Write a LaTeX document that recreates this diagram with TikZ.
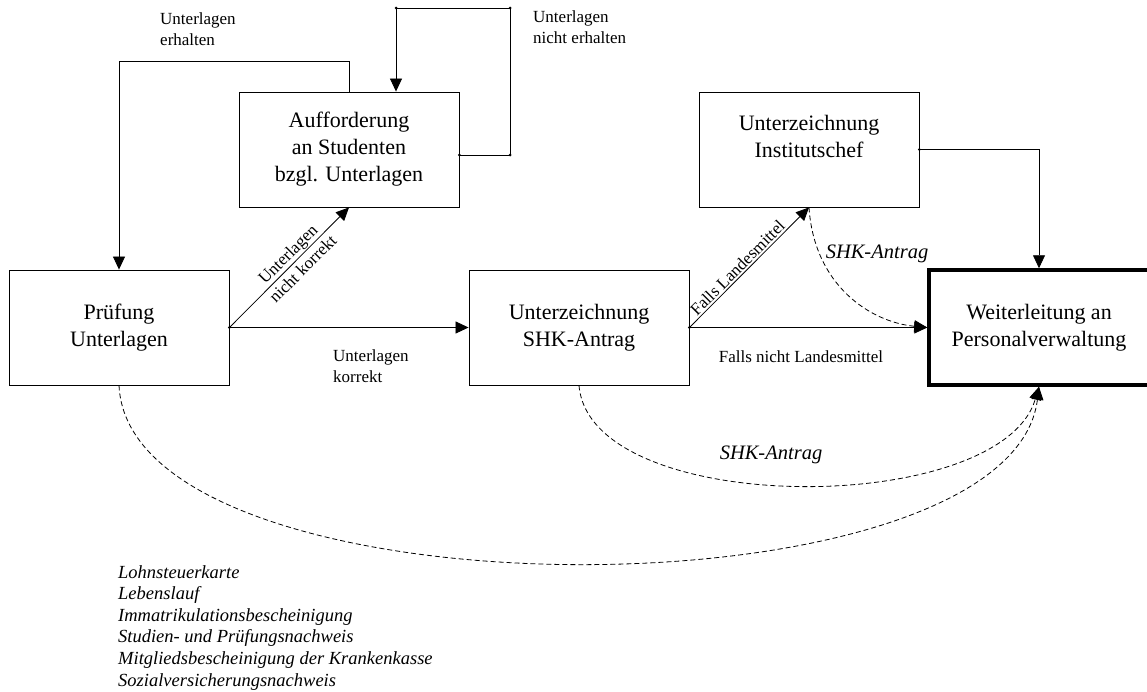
\documentclass[tikz,border=0pt]{standalone}
\usepackage{fontspec}
\setmainfont{Liberation Serif}
\usetikzlibrary{arrows.meta}
\tikzset{
  box/.style={draw, line width=0.9pt, minimum width=220pt, minimum height=115pt, align=center, inner sep=0pt, font=\fontsize{22}{27}\selectfont},
  thickbox/.style={box, line width=3.5pt},
  arr/.style={line width=0.8pt, -{Triangle[length=13pt,width=12pt]}},
  darr/.style={line width=0.8pt, dashed, dash pattern=on 5pt off 3pt, -{Triangle[length=13pt,width=12pt]}},
  lbl/.style={font=\fontsize{17}{21}\selectfont, align=left, inner sep=0pt},
  ilbl/.style={font=\fontsize{20.5}{24}\selectfont\itshape, inner sep=0pt},
  dot/.style={circle, fill, inner sep=0pt, minimum size=3pt}
}
\begin{document}
\begin{tikzpicture}[x=1pt,y=-1pt]
\useasboundingbox (0,0) rectangle (1147,691);
% boxes
\node[box] (pr) at (119,327.5) {Prüfung\\Unterlagen};
\node[box] (au) at (349,149.5) {Aufforderung\\an Studenten\\bzgl. Unterlagen};
\node[box] (shk) at (579,327.5) {Unterzeichnung\\SHK-Antrag};
\node[box] (inst) at (809,149.5) {Unterzeichnung\\Institutschef\\\mbox{}};
\node[thickbox] (wl) at (1039,327.5) {Weiterleitung an\\Personalverwaltung};
% helper coordinates
\coordinate (c1) at (510,8);
\coordinate (c2) at (119,61);
% solid connectors
\draw[arr] (pr.east) -- (shk.west);
\draw[arr] (pr.east) -- (au.south);
\draw[arr] (shk.east) -- (wl.west);
\draw[arr] (shk.east) -- (inst.south);
\draw[arr] (inst.east) -| (wl.north);
\draw[arr] ([yshift=-5.5pt]au.east) -| (c1) -| ([xshift=47pt]au.north);
\draw[arr] (au.north) |- (c2) -| (pr.north);
% junction dots
\node[dot] at (pr.east) {};
\node[dot] at (shk.east) {};
\node[dot] at (inst.east) {};
\node[dot] at ([yshift=-5.5pt]au.east) {};
\node[dot] at (c1) {};
\node[dot] at (510,155) {};
\node[dot] at (396,8) {};
% dashed connectors
\draw[darr] (inst.south) .. controls (814,285) and (870,322) .. (wl.west);
\draw[darr] (shk.south) .. controls (590,518) and (1000,518) .. (wl.south);
\draw[darr] (pr.south) .. controls (130,622) and (1010,622) .. (wl.south);
% labels
\path (pr.east) -- (au.south) node[lbl, pos=0.55, sloped, align=center] {Unterlagen\\nicht korrekt};
\path (shk.east) -- (inst.south) node[lbl, pos=0.45, sloped, above=2pt, align=center] {Falls Landesmittel};
\node[lbl, anchor=west] at (160,29) {Unterlagen\\erhalten};
\node[lbl, anchor=west] at (533,27) {Unterlagen\\nicht erhalten};
\node[lbl, anchor=west] at (333,366) {Unterlagen\\korrekt};
\node[lbl] at (801,357) {Falls nicht Landesmittel};
\node[ilbl] at (877,254) {SHK-Antrag};
\node[ilbl] at (771,455) {SHK-Antrag};
\node[lbl, anchor=north west, font=\fontsize{18.5}{21.6}\selectfont\itshape] (list) at (118,565) {Lohnsteuerkarte\\Lebenslauf\\Immatrikulationsbescheinigung\\Studien- und Prüfungsnachweis\\Mitgliedsbescheinigung der Krankenkasse\\Sozialversicherungsnachweis};
\end{tikzpicture}
\end{document}
